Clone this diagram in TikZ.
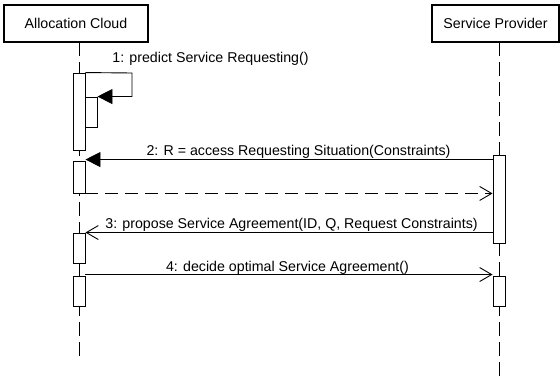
\documentclass[tikz,border=0pt]{standalone}
\usepackage{fontspec}
\setmainfont{Liberation Sans}
\usetikzlibrary{arrows.meta,calc}
\begin{document}
\begin{tikzpicture}[x=1pt,y=-1pt,
  every node/.style={font=\fontsize{14.2}{16}\selectfont},
  actor/.style={draw,line width=1.6pt,rectangle,inner sep=0pt,minimum height=37pt},
  bar/.style={draw,fill=white,line width=0.9pt,rectangle,inner sep=0pt,minimum width=12pt},
  lifeline/.style={line width=0.9pt,dash pattern=on 14pt off 6pt},
  msg/.style={line width=0.9pt},
  sync/.style={msg,-{Triangle[length=15pt,width=15pt]}},
  async/.style={msg,-{Straight Barb[length=12pt,width=14pt,line width=0.9pt]}},
  reply/.style={async,dash pattern=on 13pt off 7pt},
  label/.style={anchor=base,inner sep=0pt}]
\useasboundingbox (0,0) rectangle (560,377);

% participants
\node[actor,minimum width=144pt] (AC) at (76,23.5) {Allocation Cloud};
\node[actor,minimum width=127pt] (SP) at (495.5,23.5) {Service Provider};

% lifelines
\coordinate (ACtop) at (79,42);
\coordinate (ACend) at (79,356);
\coordinate (SPtop) at (499,42);
\coordinate (SPend) at (499,377);
\draw[lifeline] (ACtop) -- (ACend);
\draw[lifeline] (SPtop) -- (SPend);

% activation bars
\node[bar,minimum height=77pt] (A1) at (79,111.5) {};
\node[bar,minimum height=30pt] (A1b) at (91,112) {};
\node[bar,minimum height=32pt] (A2) at (79,177) {};
\node[bar,minimum height=30pt] (A3) at (79,248) {};
\node[bar,minimum height=30pt] (A4) at (79,291) {};
\node[bar,minimum height=88pt] (B1) at (499,199) {};
\node[bar,minimum height=30pt] (B2) at (499,291) {};

% 1: self call
\coordinate (loopR) at (132,73);
\draw[sync] (A1.north east) -- (loopR) |- (A1b.north east);
\node[label] (L1) at (210.5,63) {1: predict Service Requesting()};

% 2: request
\draw[sync] ($(B1.north west)+(0,5)$) coordinate (m2) -- (m2 -| A2.east);
\node[label] (L2) at (298.5,156) {2: R = access Requesting Situation(Constraints)};

% return
\draw[reply] (A2.south east) -- (A2.south east -| B1.west);

% 3: proposal
\draw[async] (A3.north east -| B1.west) -- (A3.north east);
\node[label] (L3) at (291.5,229) {3: propose Service Agreement(ID, Q, Request Constraints)};

% 4: decision
\draw[async] ($(A4.north east)+(0,-1)$) -- ($(B2.north west)+(0,-1)$);
\node[label] (L4) at (287.5,271) {4: decide optimal Service Agreement()};
\end{tikzpicture}
\end{document}
